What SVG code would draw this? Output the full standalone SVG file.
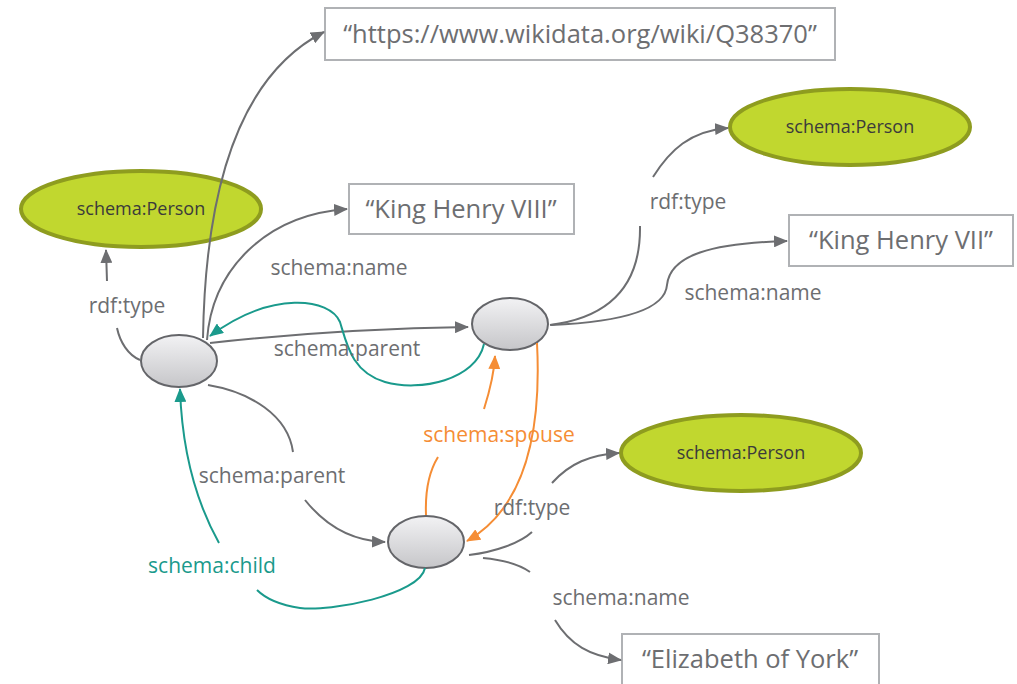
<svg xmlns="http://www.w3.org/2000/svg" width="1017" height="684" viewBox="0 0 1017 684">
<defs>
<linearGradient id="blank" x1="0" y1="0" x2="0" y2="1">
<stop offset="0" stop-color="#f2f2f4"/>
<stop offset="1" stop-color="#c6c6c9"/>
</linearGradient>
<marker id="ag" viewBox="0 0 14 12" refX="13" refY="6" markerWidth="14" markerHeight="12" markerUnits="userSpaceOnUse" orient="auto"><path d="M0,0 L14,6 L0,12 Z" fill="#6d6e71"/></marker>
<marker id="at" viewBox="0 0 14 12" refX="13" refY="6" markerWidth="14" markerHeight="12" markerUnits="userSpaceOnUse" orient="auto"><path d="M0,0 L14,6 L0,12 Z" fill="#1a9a8c"/></marker>
<marker id="ao" viewBox="0 0 14 12" refX="13" refY="6" markerWidth="14" markerHeight="12" markerUnits="userSpaceOnUse" orient="auto"><path d="M0,0 L14,6 L0,12 Z" fill="#f58d35"/></marker>
</defs>
<style>
.cls{fill:#c1d72f;stroke:#8e9c1f;stroke-width:4}
.bn{fill:url(#blank);stroke:#646569;stroke-width:2}
.lit{fill:#fff;stroke:#b0b2b5;stroke-width:2}
.g{fill:none;stroke:#6d6e71;stroke-width:2}
.t{fill:none;stroke:#1a9a8c;stroke-width:2}
.o{fill:none;stroke:#f58d35;stroke-width:2}
text{font-family:"Open Sans","Liberation Sans",sans-serif}
.lbl{font-size:21px;fill:#6d6e71;text-anchor:middle}
.lt{font-size:21px;fill:#1a9a8c;text-anchor:middle}
.lo{font-size:21px;fill:#f58d35;text-anchor:middle}
.cl{font-size:18px;fill:#3b3b3b;text-anchor:middle}
.lv{font-size:25.5px;fill:#6d6e71;text-anchor:middle}
</style>
<rect width="1017" height="684" fill="#fff"/>
<g id="person1"><ellipse class="cls" cx="141" cy="209" rx="120" ry="38"/><text class="cl" x="141" y="215">schema:Person</text></g>
<g id="person2"><ellipse class="cls" cx="850" cy="127" rx="120" ry="38"/><text class="cl" x="850" y="133">schema:Person</text></g>
<g id="person3"><ellipse class="cls" cx="741" cy="453" rx="120" ry="38"/><text class="cl" x="741" y="459">schema:Person</text></g>
<g id="henry8"><ellipse class="bn" cx="179" cy="361" rx="38" ry="26"/></g>
<g id="henry7"><ellipse class="bn" cx="510" cy="324" rx="38" ry="26"/></g>
<g id="elizabeth"><ellipse class="bn" cx="426" cy="542" rx="38" ry="26"/></g>
<g id="url"><rect class="lit" x="325" y="8" width="510" height="52"/><text class="lv" x="580" y="43">“https://www.wikidata.org/wiki/Q38370”</text></g>
<g id="name8"><rect class="lit" x="349" y="184" width="225" height="50"/><text class="lv" x="461" y="218">“King Henry VIII”</text></g>
<g id="name7"><rect class="lit" x="789" y="215" width="224" height="51"/><text class="lv" x="901" y="249">“King Henry VII”</text></g>
<g id="nameE"><rect class="lit" x="622" y="634" width="257" height="60"/><text class="lv" x="750" y="668">“Elizabeth of York”</text></g>
<g id="connectors">
<path class="g" d="M140,360 C128,355 120,342 117,328"/>
<path class="g" d="M107,281 L106,250" marker-end="url(#ag)"/>
<path class="g" d="M203,338 C205,210 230,80 324,32" marker-end="url(#ag)"/>
<path class="g" d="M207,340 C212,270 265,215 347,209" marker-end="url(#ag)"/>
<path class="g" d="M210,343 C300,333 400,328 468,327" marker-end="url(#ag)"/>
<path class="t" d="M484,344 C476,380 420,392 385,382 C352,372 347,345 340,322 C330,298 272,290 210,336" marker-end="url(#at)"/>
<path class="g" d="M550,325 C605,318 641,290 640,226"/>
<path class="g" d="M653,177 C670,150 690,131 728,128" marker-end="url(#ag)"/>
<path class="g" d="M551,325 C620,322 665,310 667,285 C670,255 712,243 787,241" marker-end="url(#ag)"/>
<path class="g" d="M208,385 C250,392 288,415 293,452"/>
<path class="g" d="M305,500 C325,525 350,541 385,542" marker-end="url(#ag)"/>
<path class="t" d="M425,568 C420,595 330,612 300,608 C280,605 265,598 257,590"/>
<path class="t" d="M219,543 C195,500 182,450 180,389" marker-end="url(#at)"/>
<path class="o" d="M426,515 C425,490 430,470 438,457"/>
<path class="o" d="M484,409 C490,390 494,375 495,356" marker-end="url(#ao)"/>
<path class="o" d="M537,343 C541,420 530,505 467,541" marker-end="url(#ao)"/>
<path class="g" d="M469,555 C495,552 520,543 532,532"/>
<path class="g" d="M552,483 C570,463 590,455 619,453" marker-end="url(#ag)"/>
<path class="g" d="M483,558 C505,560 520,565 530,572"/>
<path class="g" d="M555,620 C570,645 590,656 621,660" marker-end="url(#ag)"/>
</g>
<g id="labels">
<text class="lbl" x="127" y="313">rdf:type</text>
<text class="lbl" x="339" y="275">schema:name</text>
<text class="lbl" x="347" y="356">schema:parent</text>
<text class="lbl" x="272" y="483">schema:parent</text>
<text class="lt" x="212" y="573">schema:child</text>
<text class="lo" x="499" y="442">schema:spouse</text>
<text class="lbl" x="688" y="209">rdf:type</text>
<text class="lbl" x="753" y="300">schema:name</text>
<text class="lbl" x="532" y="515">rdf:type</text>
<text class="lbl" x="621" y="605">schema:name</text>
</g>
</svg>
